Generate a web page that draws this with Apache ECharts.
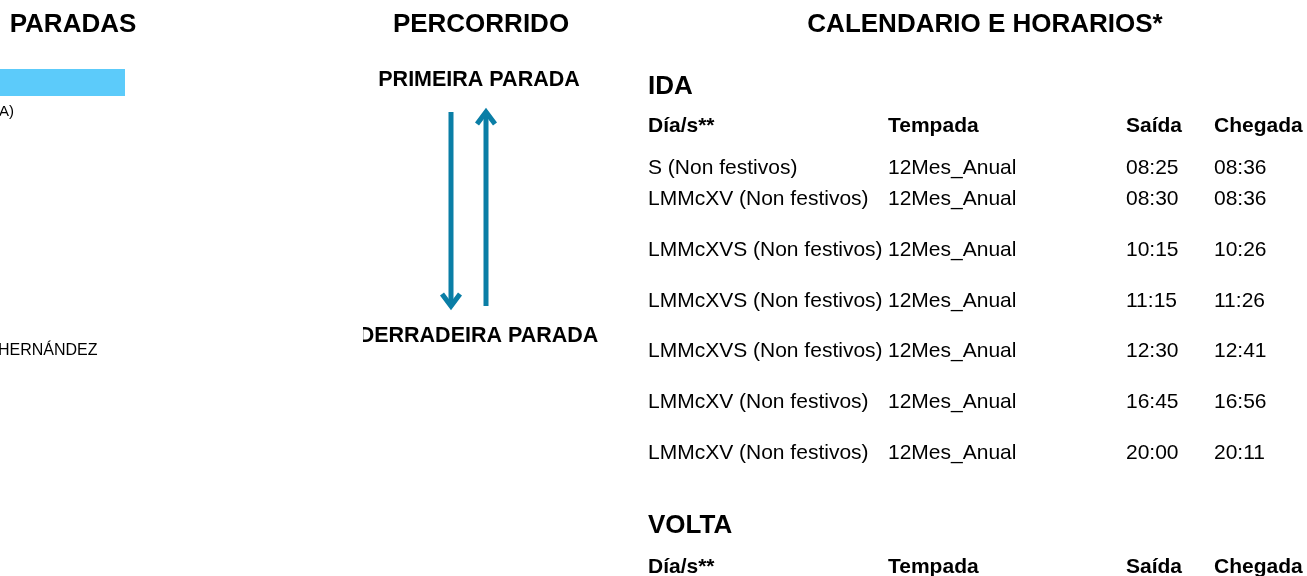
<!DOCTYPE html>
<html>
<head>
<meta charset="utf-8">
<script src="https://cdn.jsdelivr.net/npm/echarts@6/dist/echarts.min.js"></script>
<style>
html,body{margin:0;padding:0;background:#fff;}
#c{width:1307px;height:576px;}
</style>
</head>
<body>
<div id="c"></div>
<script>
// ---- data ----
var sectionTitles = ['PARADAS', 'PERCORRIDO', 'CALENDARIO E HORARIOS*'];
var stopLabels = ['A)', 'HERNÁNDEZ'];
var routeEnds = ['PRIMEIRA PARADA', 'DERRADEIRA PARADA'];
var directions = ['IDA', 'VOLTA'];
var tableHeaders = ['Día/s**', 'Tempada', 'Saída', 'Chegada'];
var idaDays = ['S (Non festivos)', 'LMMcXV (Non festivos)', 'LMMcXVS (Non festivos)', 'LMMcXVS (Non festivos)', 'LMMcXVS (Non festivos)', 'LMMcXV (Non festivos)', 'LMMcXV (Non festivos)'];
var idaSeason = ['12Mes_Anual', '12Mes_Anual', '12Mes_Anual', '12Mes_Anual', '12Mes_Anual', '12Mes_Anual', '12Mes_Anual'];
var idaDeparture = ['08:25', '08:30', '10:15', '11:15', '12:30', '16:45', '20:00'];
var idaArrival = ['08:36', '08:36', '10:26', '11:26', '12:41', '16:56', '20:11'];

// ---- layout ----
var FONT = '"Liberation Sans", Arial, sans-serif';
var ARROW = '#0a7ea6';
var colX = [648, 888, 1126, 1214];
var rowY = [167, 198, 249, 300, 350, 401, 452];
var DY = 1.5;

function txt(x, y, s, size, bold, align) {
  return {
    type: 'text', z: 10,
    style: {
      x: x, y: y + DY, text: s, fill: '#000',
      font: (bold ? 'bold ' : '') + size + 'px ' + FONT,
      textAlign: align || 'left', textVerticalAlign: 'middle'
    }
  };
}

var g = [];
// section titles
g.push(txt(73, 23.5, sectionTitles[0], 26, true, 'center'));
g.push(txt(481, 23.5, sectionTitles[1], 26, true, 'center'));
g.push(txt(985, 23.5, sectionTitles[2], 26, true, 'center'));

// paradas column
g.push({ type: 'rect', shape: { x: 0, y: 69, width: 125, height: 27 }, style: { fill: '#5ccbfa' } });
g.push(txt(-1, 110, stopLabels[0], 15, false, 'left'));
g.push(txt(-2, 349, stopLabels[1], 16, false, 'left'));

// percorrido
g.push(txt(479, 78.5, routeEnds[0], 21.5, true, 'center'));
g.push(txt(478.5, 335, routeEnds[1], 21.5, true, 'center'));
g.push({ type: 'rect', shape: { x: 330, y: 318, width: 33, height: 36 }, style: { fill: '#fff' }, z: 20 });

// arrows
g.push({ type: 'line', shape: { x1: 451, y1: 112, x2: 451, y2: 306 }, style: { stroke: ARROW, lineWidth: 5 } });
g.push({ type: 'polyline', shape: { points: [[442, 294], [451, 306], [460, 294]] }, style: { stroke: ARROW, lineWidth: 5, fill: null, lineJoin: 'miter' } });
g.push({ type: 'line', shape: { x1: 486, y1: 306, x2: 486, y2: 112 }, style: { stroke: ARROW, lineWidth: 5 } });
g.push({ type: 'polyline', shape: { points: [[477, 124], [486, 112], [495, 124]] }, style: { stroke: ARROW, lineWidth: 5, fill: null, lineJoin: 'miter' } });

// IDA table
g.push(txt(648, 85, directions[0], 26, true, 'left'));
tableHeaders.forEach(function (h, i) { g.push(txt(colX[i], 125, h, 21, true, 'left')); });
idaDays.forEach(function (d, r) {
  var y = rowY[r];
  g.push(txt(colX[0], y, d, 21, false, 'left'));
  g.push(txt(colX[1], y, idaSeason[r], 21, false, 'left'));
  g.push(txt(colX[2], y, idaDeparture[r], 21, false, 'left'));
  g.push(txt(colX[3], y, idaArrival[r], 21, false, 'left'));
});

// VOLTA table
g.push(txt(648, 524, directions[1], 26, true, 'left'));
tableHeaders.forEach(function (h, i) { g.push(txt(colX[i], 566, h, 21, true, 'left')); });

var chart = echarts.init(document.getElementById('c'), null, { renderer: 'canvas' });
chart.setOption({ backgroundColor: '#fff', animation: false, graphic: { elements: g } });
</script>
</body>
</html>
